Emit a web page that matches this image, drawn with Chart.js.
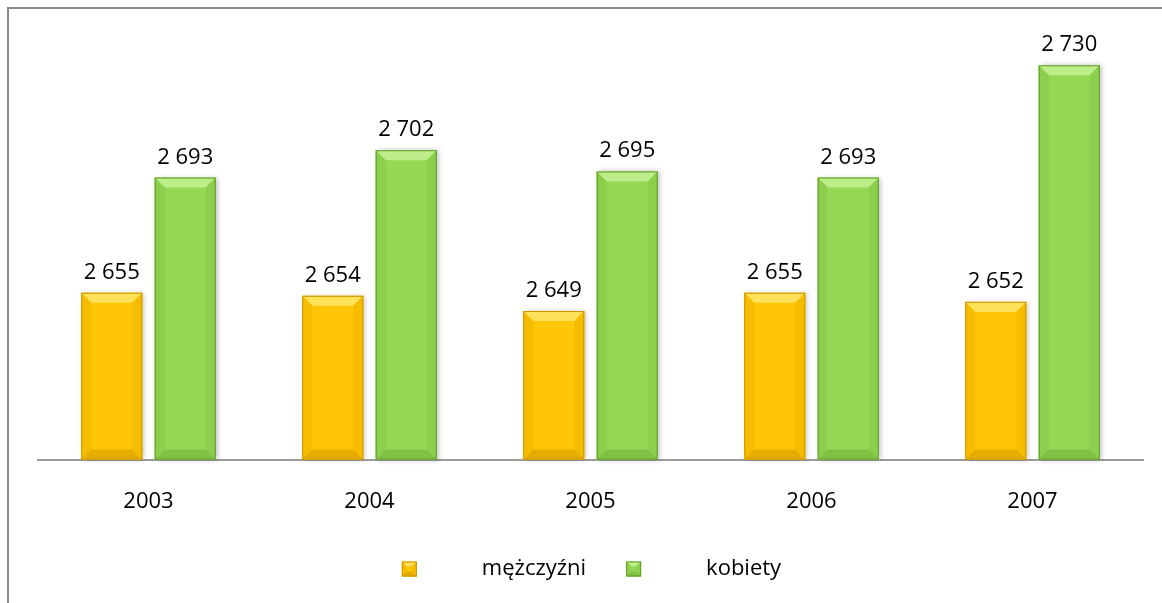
<!DOCTYPE html>
<html>
<head>
<meta charset="utf-8">
<script src="https://cdn.jsdelivr.net/npm/chart.js@4.4.0/dist/chart.umd.min.js"></script>
<style>
    body { margin: 0; background: #fff; }
    #frame {
        position: absolute; left: 7px; top: 7px; width: 1200px; height: 700px;
        border: 2px solid #8a8a8a;
    }
    #wrap { position: absolute; left: 0; top: 0; width: 1162px; height: 603px; }
</style>
</head>
<body>
<div id="frame"></div>
<div id="wrap"><canvas id="myChart"></canvas></div>
<script>
// values
const years = ["2003", "2004", "2005", "2006", "2007"];
const mezczyzni = [2655, 2654, 2649, 2655, 2652];
const kobiety = [2693, 2702, 2695, 2693, 2730];
const seriesNames = ["mężczyźni", "kobiety"];
const yMin = 2600;
const yMax = 2740;

const FONT = "'Open Sans', 'Liberation Sans', sans-serif";

// fill, light top, dark bottom, edge
const palette = [
    { fill: "#ffc608", top: "#ffe15a", side: "#f6bd00", bottom: "#e6ad00", edge: "#c99800" },
    { fill: "#95d855", top: "#bdee8a", side: "#8ccf4d", bottom: "#80c145", edge: "#62992f" }
];

function fmt(v) {
    return String(v).replace(/\B(?=(\d{3})+(?!\d))/g, " ");
}

function bevelBox(ctx, left, top, right, bottom, c, b) {
    ctx.fillStyle = c.fill;
    ctx.fillRect(left, top, right - left, bottom - top);
    // top
    ctx.fillStyle = c.top;
    ctx.beginPath();
    ctx.moveTo(left, top); ctx.lineTo(right, top);
    ctx.lineTo(right - b, top + b); ctx.lineTo(left + b, top + b);
    ctx.closePath(); ctx.fill();
    // sides
    ctx.fillStyle = c.side;
    ctx.beginPath();
    ctx.moveTo(left, top); ctx.lineTo(left + b, top + b);
    ctx.lineTo(left + b, bottom - b); ctx.lineTo(left, bottom);
    ctx.closePath(); ctx.fill();
    ctx.beginPath();
    ctx.moveTo(right, top); ctx.lineTo(right - b, top + b);
    ctx.lineTo(right - b, bottom - b); ctx.lineTo(right, bottom);
    ctx.closePath(); ctx.fill();
    // bottom
    ctx.fillStyle = c.bottom;
    ctx.beginPath();
    ctx.moveTo(left, bottom); ctx.lineTo(right, bottom);
    ctx.lineTo(right - b, bottom - b); ctx.lineTo(left + b, bottom - b);
    ctx.closePath(); ctx.fill();
    ctx.strokeStyle = c.edge;
    ctx.lineWidth = 1;
    ctx.strokeRect(left + 0.5, top + 0.5, right - left - 1, bottom - top - 1);
}

// bevelled bars + value labels
const bevelBars = {
    id: "bevelBars",
    afterDatasetsDraw(chart) {
        const ctx = chart.ctx;
        chart.data.datasets.forEach((ds, i) => {
            const meta = chart.getDatasetMeta(i);
            meta.data.forEach((bar, j) => {
                const p = bar.getProps(["x", "y", "base", "width"], true);
                const left = p.x - p.width / 2, right = p.x + p.width / 2;
                ctx.save();
                ctx.shadowColor = "rgba(0,0,0,0.25)";
                ctx.shadowBlur = 5;
                ctx.shadowOffsetX = 2;
                ctx.fillStyle = palette[i].fill;
                ctx.fillRect(left, p.y, p.width, p.base - p.y);
                ctx.restore();
                bevelBox(ctx, left, p.y, right, p.base, palette[i], 10);

                ctx.save();
                ctx.fillStyle = "#000";
                ctx.font = "22px " + FONT;
                ctx.textAlign = "center";
                ctx.textBaseline = "alphabetic";
                ctx.fillText(fmt(ds.data[j]), p.x, p.y - 14);
                ctx.restore();
            });
        });
    },
    afterDraw(chart) {
        // legend under the axis
        const ctx = chart.ctx;
        ctx.save();
        ctx.font = "22px " + FONT;
        const box = 15, gap = 65, between = 40;
        const widths = seriesNames.map(n => ctx.measureText(n).width);
        const total = widths.reduce((a, w) => a + box + gap + w, 0) + between;
        const area = chart.chartArea;
        let x = (area.left + area.right) / 2 - total / 2 + 1;
        const cy = 569;
        seriesNames.forEach((name, i) => {
            bevelBox(ctx, x, cy - box / 2, x + box, cy + box / 2, palette[i], 5);
            ctx.fillStyle = "#000";
            ctx.textAlign = "left";
            ctx.textBaseline = "middle";
            ctx.fillText(name, x + box + gap, cy);
            x += box + gap + widths[i] + between;
        });
        ctx.restore();
    }
};

const ctx = document.getElementById("myChart").getContext("2d");

const myChart = new Chart(ctx, {
    type: "bar",
    data: {
        labels: years,
        datasets: [
            { label: seriesNames[0], data: mezczyzni, base: yMin, backgroundColor: "rgba(0,0,0,0)" },
            { label: seriesNames[1], data: kobiety, base: yMin, backgroundColor: "rgba(0,0,0,0)" }
        ]
    },
    options: {
        responsive: true,
        maintainAspectRatio: false,
        animation: false,
        categoryPercentage: 0.665,
        barPercentage: 0.83,
        layout: { padding: { left: 38, right: 19, top: 35, bottom: 59 } },
        plugins: {
            legend: { display: false },
            tooltip: { enabled: false }
        },
        scales: {
            y: {
                display: false,
                min: yMin,
                max: yMax
            },
            x: {
                grid: { display: false, drawTicks: false },
                border: { color: "#9a9a9a", width: 2 },
                ticks: {
                    padding: 29,
                    color: "#000",
                    font: { family: FONT, size: 22 }
                }
            }
        }
    },
    plugins: [bevelBars]
});
</script>
</body>
</html>
